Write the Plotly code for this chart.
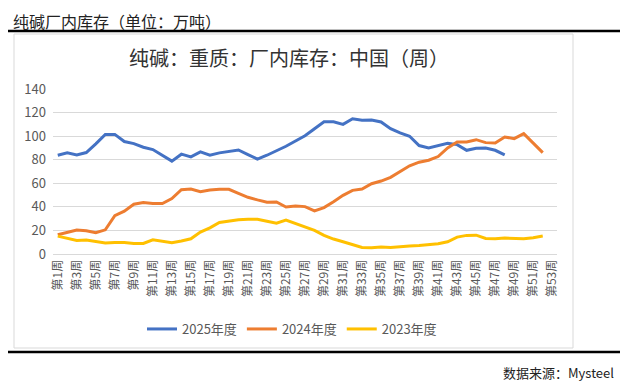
import plotly.graph_objects as go

weeks = [f"第{i}周" for i in range(1, 54)]
tick_labels = weeks[::2]

s2025 = [83.8, 85.8, 84.1, 86.1, 93.5, 101.5, 101.5, 95.4, 93.7, 90.6,
         88.6, 83.8, 78.8, 84.7, 82.4, 86.6, 83.8, 85.8, 87.2, 88.3,
         84.4, 80.5, 83.8, 87.5, 91.4, 95.9, 100.3, 106.3, 112.2, 112.2,
         110.0, 114.8, 113.4, 113.6, 112.0, 106.3, 102.7, 99.9, 92.0, 90.0,
         92.0, 94.0, 92.8, 88.0, 89.7, 90.0, 88.0, 84.1]
s2024 = [16.3, 18.0, 20.3, 19.7, 18.0, 20.5, 32.6, 36.3, 42.2, 43.6,
         42.8, 42.8, 47.0, 54.6, 55.1, 52.9, 54.3, 54.9, 54.9, 51.5,
         48.1, 45.9, 43.9, 44.2, 39.9, 40.8, 40.2, 36.6, 39.4, 44.4,
         49.8, 54.0, 55.1, 59.6, 61.9, 65.0, 70.0, 74.8, 77.9, 79.6,
         82.7, 90.0, 95.1, 95.1, 97.0, 94.5, 94.2, 99.3, 97.9, 102.1,
         94.1, 86.0]
s2023 = [15.2, 13.5, 11.5, 11.8, 10.4, 9.3, 9.8, 9.8, 9.0, 9.0,
         12.1, 10.7, 9.6, 11.0, 12.9, 18.6, 22.2, 26.7, 28.1, 29.0,
         29.5, 29.5, 27.8, 26.2, 28.7, 25.6, 22.5, 20.0, 15.8, 12.7,
         10.4, 8.2, 5.6, 5.3, 5.9, 5.6, 6.5, 6.8, 7.3, 8.2,
         8.7, 10.4, 14.3, 15.8, 16.0, 13.2, 12.9, 13.5, 13.2, 12.9,
         13.8, 15.2]

series = [("2025年度", s2025, "#4472C4"),
          ("2024年度", s2024, "#ED7D31"),
          ("2023年度", s2023, "#FFC000")]

FONT = "Noto Sans CJK SC"

fig = go.Figure()
for name, vals, color in series:
    fig.add_trace(go.Scatter(
        x=weeks[:len(vals)], y=vals, name=name, mode="lines",
        line=dict(color=color, width=3),
    ))

# The page body adds an 8px margin, so figure coords = page coords - 8.
OFF = 8
W, H = 612, 378
L, R, T, B = 53 - OFF, 557 - OFF, 89 - OFF, 254 - OFF

def px(x):  # page x -> paper x
    return (x - OFF - L) / (R - L)

def py(y):  # page y -> paper y
    return (B - (y - OFF)) / (B - T)

fig.update_layout(
    width=W, height=H,
    margin=dict(l=L, r=W - R, t=T, b=H - B),
    paper_bgcolor="white", plot_bgcolor="white",
    font=dict(family=FONT, color="#595959"),
    showlegend=True,
    legend=dict(orientation="h", x=px(292), xanchor="center",
                y=py(329), yanchor="middle",
                font=dict(size=13, color="#595959", family=FONT),
                itemwidth=30, tracegroupgap=0, bgcolor="rgba(0,0,0,0)"),
    xaxis=dict(type="category", categoryorder="array", categoryarray=weeks,
               range=[-0.5, 52.5], tickmode="array", tickvals=tick_labels,
               ticktext=tick_labels, tickangle=-90,
               tickfont=dict(size=12, color="#595959", family=FONT),
               showgrid=False, showline=True, linecolor="#D9D9D9",
               linewidth=1, ticks="", zeroline=False),
    yaxis=dict(range=[0, 140], tickvals=list(range(0, 141, 20)),
               tickfont=dict(size=13, color="#595959", family=FONT),
               showgrid=True, gridcolor="#D9D9D9", gridwidth=1,
               zeroline=False, showline=False, ticks="",
               ticklabelstandoff=6),
    shapes=[
        dict(type="rect", xref="paper", yref="paper",
             x0=px(14), x1=px(573), y0=py(348), y1=py(34),
             line=dict(color="#D9D9D9", width=1), layer="below"),
        dict(type="line", xref="paper", yref="paper",
             x0=px(5), x1=px(620), y0=py(31), y1=py(31),
             line=dict(color="black", width=2.5)),
        dict(type="line", xref="paper", yref="paper",
             x0=px(5), x1=px(620), y0=py(352), y1=py(352),
             line=dict(color="black", width=2.5)),
    ],
    annotations=[
        dict(text="纯碱厂内库存（单位：万吨）", xref="paper", yref="paper",
             x=px(12), y=py(8), xanchor="left", yanchor="top", borderpad=0,
             showarrow=False, font=dict(size=16, color="#222222", family=FONT)),
        dict(text="纯碱：重质：厂内库存：中国（周）", xref="paper", yref="paper",
             x=px(289), y=py(57), xanchor="center", yanchor="middle",
             showarrow=False, font=dict(size=20, color="#333333", family=FONT)),
        dict(text="数据来源：Mysteel", xref="paper", yref="paper",
             x=px(616), y=py(372), xanchor="right", yanchor="middle",
             showarrow=False, font=dict(size=13, color="#222222", family=FONT)),
    ],
)

fig.write_html("out.html")
